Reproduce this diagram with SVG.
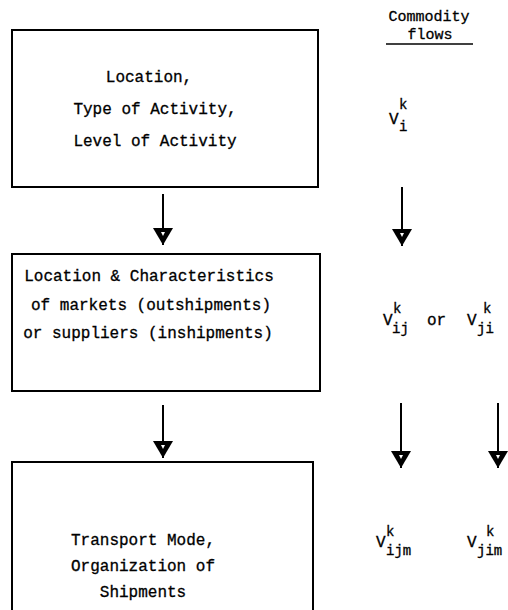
<svg xmlns="http://www.w3.org/2000/svg" width="508" height="610" viewBox="0 0 508 610">
<style>
.box{fill:none;stroke:#000;stroke-width:2}
.t{font-family:"Liberation Mono","DejaVu Sans Mono",monospace;font-size:16px;fill:#000;stroke:#000;stroke-width:0.3}
.s{font-family:"Liberation Mono","DejaVu Sans Mono",monospace;font-size:14px;fill:#000;stroke:#000;stroke-width:0.3}
.h{font-family:"Liberation Mono","DejaVu Sans Mono",monospace;font-size:15px;fill:#000;stroke:#000;stroke-width:0.3;text-anchor:middle}
.m{text-anchor:middle}
.ln{stroke:#000;stroke-width:2;fill:none;marker-end:url(#ah)}
</style>
<defs>
<marker id="ah" viewBox="0 0 17 20" refX="17" refY="10" markerWidth="17" markerHeight="20" markerUnits="userSpaceOnUse" orient="auto">
<path d="M0,0 L17,10 L0,20 Z" fill="#000"/>
<path d="M4,8 L8,10 L4,12 Z" fill="#fff"/>
</marker>
</defs>
<g id="header">
<text class="h" x="429" y="21">Commodity</text>
<text class="h" x="430" y="39">flows</text>
<line x1="386" y1="44" x2="473" y2="44" stroke="#000" stroke-width="1.5"/>
</g>
<g id="node1">
<rect class="box" x="12" y="30" width="306" height="157"/>
<text class="t m" x="149" y="82">Location,</text>
<text class="t m" x="155" y="114">Type of Activity,</text>
<text class="t m" x="155" y="146">Level of Activity</text>
</g>
<g id="node2">
<rect class="box" x="12" y="254" width="308" height="137"/>
<text class="t m" x="149" y="281">Location &amp; Characteristics</text>
<text class="t m" x="151" y="310">of markets (outshipments)</text>
<text class="t m" x="148" y="338">or suppliers (inshipments)</text>
</g>
<g id="node3">
<path class="box" d="M12,612 V462 H313 V612"/>
<text class="t m" x="143" y="545">Transport Mode,</text>
<text class="t m" x="143" y="571">Organization of</text>
<text class="t m" x="143" y="597">Shipments</text>
</g>
<g id="flow1">
<text class="t" x="389" y="124">V</text>
<text class="s" x="399" y="109">k</text>
<text class="s" x="399" y="131">i</text>
</g>
<g id="flow2">
<text class="t" x="383" y="325">V</text>
<text class="s" x="393" y="313">k</text>
<text class="s" x="392" y="333">ij</text>
<text class="t" x="427" y="325">or</text>
<text class="t" x="467" y="325">V</text>
<text class="s" x="483" y="313">k</text>
<text class="s" x="477" y="333">ji</text>
</g>
<g id="flow3">
<text class="t" x="376" y="547">V</text>
<text class="s" x="386" y="536">k</text>
<text class="s" x="386" y="555">ijm</text>
<text class="t" x="467" y="547">V</text>
<text class="s" x="486" y="536">k</text>
<text class="s" x="477" y="555">jim</text>
</g>
<g id="connectors">
<line class="ln" x1="163" y1="194" x2="163" y2="245"/>
<line class="ln" x1="402" y1="187" x2="402" y2="246"/>
<line class="ln" x1="163" y1="405" x2="163" y2="458"/>
<line class="ln" x1="401" y1="403" x2="401" y2="468"/>
<line class="ln" x1="498" y1="403" x2="498" y2="468"/>
</g>
</svg>
